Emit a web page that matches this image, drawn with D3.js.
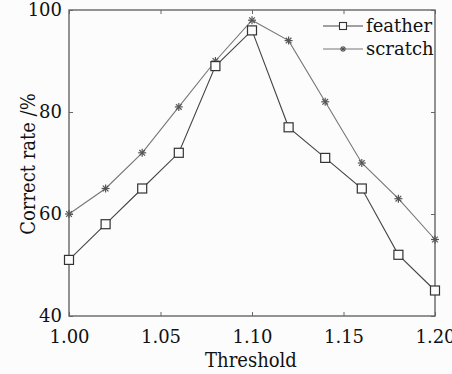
<!DOCTYPE html>
<html>
<head>
<meta charset="utf-8">
<script src="https://cdn.jsdelivr.net/npm/d3@7"></script>
<style>
  body { margin: 0; background: #fcfcfc; }
  svg { display: block; }
  text { font-family: "DejaVu Serif", serif; fill: #111; }
</style>
</head>
<body>
<svg id="chart"></svg>
<script>
var thresholds = [1.00, 1.02, 1.04, 1.06, 1.08, 1.10, 1.12, 1.14, 1.16, 1.18, 1.20];
var feather = [51, 58, 65, 72, 89, 96, 77, 71, 65, 52, 45];
var scratch = [60, 65, 72, 81, 90, 98, 94, 82, 70, 63, 55];
var xTicks = [1.00, 1.05, 1.10, 1.15, 1.20];
var yTicks = [40, 60, 80, 100];

var width = 452, height = 374;
var margin = { top: 10, right: 17, bottom: 58, left: 69 };
var w = width - margin.left - margin.right;
var h = height - margin.top - margin.bottom;

var svg = d3.select("#chart").attr("width", width).attr("height", height);
var g = svg.append("g").attr("transform", "translate(" + margin.left + "," + margin.top + ")");

var x = d3.scaleLinear().domain([1.0, 1.2]).range([0, w]);
var y = d3.scaleLinear().domain([40, 100]).range([h, 0]);

// frame
g.append("rect").attr("width", w).attr("height", h)
  .attr("fill", "none").attr("stroke", "#666").attr("stroke-width", 1.4);

// axes, ticks pointing inward
g.append("g").attr("transform", "translate(0," + h + ")")
  .call(d3.axisBottom(x).tickValues(xTicks).tickFormat(d3.format(".2f")).tickSizeInner(-4).tickSizeOuter(0).tickPadding(14));
g.append("g")
  .call(d3.axisLeft(y).tickValues(yTicks).tickSizeInner(-4).tickSizeOuter(0).tickPadding(7));
g.append("g").call(d3.axisTop(x).tickValues(xTicks).tickFormat("").tickSizeInner(-4).tickSizeOuter(0));
g.append("g").attr("transform", "translate(" + w + ",0)")
  .call(d3.axisRight(y).tickValues(yTicks).tickFormat("").tickSizeInner(-4).tickSizeOuter(0));
g.selectAll(".domain").remove();
g.selectAll(".tick line").attr("stroke", "#666");
g.selectAll(".tick text").style("font-size", "18px").attr("fill", "#111");

// axis titles
svg.append("text").attr("text-anchor", "middle")
  .attr("x", margin.left + w / 2 - 1).attr("y", 367)
  .style("font-family", "'DejaVu Serif Condensed', 'DejaVu Serif', serif")
  .style("font-size", "20px").text("Threshold");
svg.append("text").attr("text-anchor", "middle")
  .attr("transform", "translate(35," + (margin.top + h / 2 + 1) + ")rotate(-90)")
  .style("font-family", "'DejaVu Serif Condensed', 'DejaVu Serif', serif")
  .style("font-size", "20px").text("Correct rate /%");

var line = d3.line().x(function (d, i) { return x(thresholds[i]); }).y(function (d) { return y(d); });

g.append("path").attr("d", line(scratch)).attr("fill", "none").attr("stroke", "#777").attr("stroke-width", 1.1);
g.append("path").attr("d", line(feather)).attr("fill", "none").attr("stroke", "#444").attr("stroke-width", 1.1);

function star(sel, cx, cy, r) {
  [0, 45, 90, 135].forEach(function (a) {
    var rad = a * Math.PI / 180;
    sel.append("line")
      .attr("x1", cx - r * Math.cos(rad)).attr("y1", cy - r * Math.sin(rad))
      .attr("x2", cx + r * Math.cos(rad)).attr("y2", cy + r * Math.sin(rad))
      .attr("stroke", "#555").attr("stroke-width", 1.2);
  });
}

var stars = g.append("g");
scratch.forEach(function (d, i) { star(stars, x(thresholds[i]), y(d), 4); });

g.selectAll(".sq").data(feather).enter().append("rect").attr("class", "sq")
  .attr("x", function (d, i) { return x(thresholds[i]) - 4.5; })
  .attr("y", function (d) { return y(d) - 4.5; })
  .attr("width", 9).attr("height", 9)
  .attr("fill", "#fcfcfc").attr("stroke", "#333").attr("stroke-width", 1.2);

// legend
var lg = svg.append("g");
lg.append("line").attr("x1", 323).attr("x2", 363).attr("y1", 26).attr("y2", 26).attr("stroke", "#444");
lg.append("rect").attr("x", 339.5).attr("y", 22.5).attr("width", 7).attr("height", 7)
  .attr("fill", "#fcfcfc").attr("stroke", "#333").attr("stroke-width", 1.1);
lg.append("text").attr("x", 366).attr("y", 32).style("font-size", "18px").text("feather");
lg.append("line").attr("x1", 323).attr("x2", 363).attr("y1", 49).attr("y2", 49).attr("stroke", "#777");
star(lg, 343, 49, 3);
lg.append("text").attr("x", 366).attr("y", 55).style("font-size", "18px").text("scratch");
</script>
</body>
</html>
